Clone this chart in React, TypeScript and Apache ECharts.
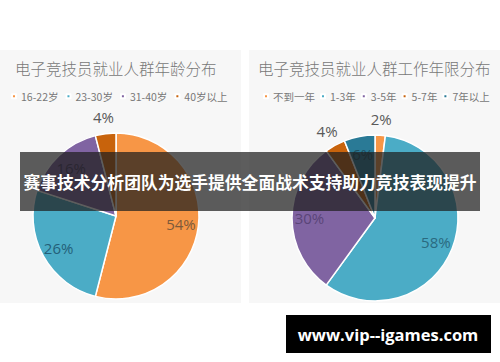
import React, { useEffect, useRef } from "react";
import * as echarts from "echarts";

const ageTitle = "电子竞技员就业人群年龄分布";
const ageNames = ["16-22岁", "23-30岁", "31-40岁", "40岁以上"];
const ageValues = [54, 26, 16, 4];
const ageColors = ["#f79646", "#4bacc6", "#8064a2", "#c8630c"];
const ageLabelColors = ["#7d5a3a", "#245f78", "#4a3a62", "#595959"];
const ageInside = [true, true, true, false];

const yearTitle = "电子竞技员就业人群工作年限分布";
const yearNames = ["不到一年", "1-3年", "3-5年", "5-7年", "7年以上"];
const yearValues = [2, 58, 30, 4, 6];
const yearColors = ["#f79646", "#4bacc6", "#8064a2", "#c8630c", "#2a7a96"];
const yearLabelColors = ["#595959", "#2a6a80", "#5a4578", "#595959", "#1e4f60"];
const yearInside = [false, true, true, false, true];

const bannerText = "赛事技术分析团队为选手提供全面战术支持助力竞技表现提升";
const siteText = "www.vip--igames.com";

const R = 83;

function pieSeries(names: string[], values: number[], colors: string[], labelColors: string[], inside: boolean[], center: number[]) {
  const base = {
    type: "pie",
    center,
    startAngle: 90,
    clockwise: true,
    silent: true,
    emphasis: { disabled: true },
    labelLine: { show: false },
  };
  const real = {
    ...base,
    radius: [0, R],
    label: { show: false },
    itemStyle: { borderColor: "#ffffff", borderWidth: 1.5 },
    data: names.map((n, i) => ({ name: n, value: values[i], itemStyle: { color: colors[i] } })),
  };
  const mkLabel = (wantInside: boolean, radius: number[]) => ({
    ...base,
    radius,
    itemStyle: { color: "rgba(0,0,0,0)", borderWidth: 0 },
    label: {
      show: true,
      position: "inside",
      formatter: "{c}%",
      fontFamily: "Open Sans",
      fontSize: 15,
    },
    data: names.map((n, i) => ({
      name: n,
      value: values[i],
      label: { show: inside[i] === wantInside, color: labelColors[i] },
    })),
  });
  return [real, mkLabel(true, [42, R]), mkLabel(false, [R, 110])];
}

export default function App() {
  const ref = useRef<HTMLDivElement>(null);
  useEffect(() => {
    document.body.style.margin = "0";
    if (!ref.current) return;
    const chart = echarts.init(ref.current, undefined, { renderer: "svg" });
    const legendCommon = {
      icon: "rect",
      itemWidth: 4,
      itemHeight: 4,
      orient: "horizontal",
      selectedMode: false,
      width: 300,
      padding: 0,
      textStyle: { fontSize: 10.5, color: "#777", fontFamily: "Noto Sans CJK SC" },
    };
    chart.setOption({
      animation: false,
      backgroundColor: "#ffffff",
      legend: [
        { ...legendCommon, data: ageNames, left: 11, top: 91, itemGap: 7 },
        { ...legendCommon, data: yearNames, left: 263, top: 91, itemGap: 5 },
      ],
      graphic: {
        elements: [
          { type: "rect", z: -10, shape: { x: 0, y: 50, width: 241, height: 253 }, style: { fill: "#f7f7f7" } },
          { type: "rect", z: -10, shape: { x: 249, y: 50, width: 251, height: 253 }, style: { fill: "#f7f7f7" } },
          {
            type: "text", z: -5, x: 15, y: 68,
            style: { text: ageTitle, fill: "#777", fontSize: 15.5, fontFamily: "Noto Sans CJK SC", fontWeight: 300, verticalAlign: "middle" },
          },
          {
            type: "text", z: -5, x: 258, y: 68,
            style: { text: yearTitle, fill: "#777", fontSize: 15.5, fontFamily: "Noto Sans CJK SC", fontWeight: 300, verticalAlign: "middle" },
          },
          { type: "rect", z: 100, shape: { x: 20, y: 152, width: 460, height: 59 }, style: { fill: "rgba(30,30,30,0.72)" } },
          {
            type: "text", z: 101, x: 250, y: 182,
            style: { text: bannerText, fill: "#ffffff", fontSize: 16.8, fontWeight: "bold", fontFamily: "Noto Sans CJK SC", align: "center", verticalAlign: "middle" },
          },
          { type: "rect", z: 100, shape: { x: 286, y: 315, width: 205, height: 38 }, style: { fill: "#000000" } },
          {
            type: "text", z: 101, x: 388, y: 334,
            style: { text: siteText, fill: "#ffffff", fontSize: 16.5, fontWeight: "bold", fontFamily: "Open Sans", align: "center", verticalAlign: "middle" },
          },
        ],
      },
      series: [
        ...pieSeries(ageNames, ageValues, ageColors, ageLabelColors, ageInside, [116, 216]),
        ...pieSeries(yearNames, yearValues, yearColors, yearLabelColors, yearInside, [375, 218]),
      ],
    });
    return () => chart.dispose();
  }, []);
  return <div ref={ref} style={{ width: 500, height: 362 }} />;
}
